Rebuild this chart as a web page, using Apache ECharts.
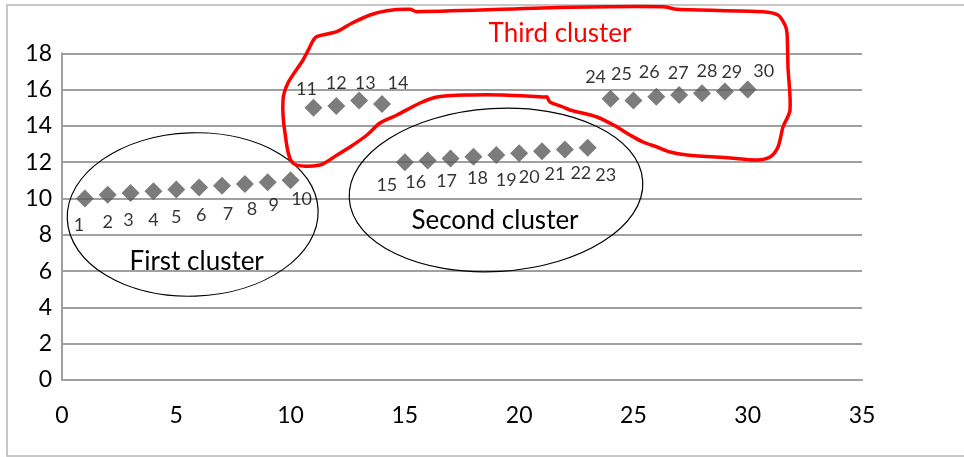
<!DOCTYPE html>
<html>
<head>
<meta charset="utf-8">
<script src="https://cdn.jsdelivr.net/npm/echarts@6/dist/echarts.min.js"></script>
<style>html,body{margin:0;padding:0;background:#fff}#c{width:964px;height:457px}</style>
</head>
<body>
<div id="c"></div>
<script>
// ---- data ----
const xValues = [1,2,3,4,5,6,7,8,9,10,11,12,13,14,15,16,17,18,19,20,21,22,23,24,25,26,27,28,29,30];
const yValues = [10.0,10.2,10.3,10.4,10.5,10.6,10.7,10.8,10.9,11.0,
                 15.0,15.1,15.4,15.2,
                 12.0,12.1,12.2,12.3,12.4,12.5,12.6,12.7,12.8,
                 15.5,15.4,15.6,15.7,15.8,15.9,16.0];
const pointLabels = ['1','2','3','4','5','6','7','8','9','10','11','12','13','14','15','16','17','18','19','20','21','22','23','24','25','26','27','28','29','30'];
const yTicks = [0,2,4,6,8,10,12,14,16,18];
const xTicks = [0,5,10,15,20,25,30,35];
const clusterNames = ['First cluster','Second cluster','Third cluster'];

// ---- label placement (style) ----
const LABEL_OFFSETS = [
  [-6,27],[0,27],[-2,27],[0,29],[0,28],[2,28],[6,28],[7,25],[6,23],[11,19],
  [-7,-19],[0,-23],[6,-17],[16,-21],
  [-18,23],[-12,22],[-4,23],[4,21],[10,25],[10,24],[13,23],[16,24],[18,28],
  [-15,-21],[-12,-26],[-7,-25],[-1,-22],[5,-22],[7,-19],[16,-18]
];

const FONT = 'Lato, "Open Sans", sans-serif';
const data = xValues.map((x, i) => ({
  value: [x, yValues[i]],
  label: { show: true, position: 'inside', offset: LABEL_OFFSETS[i], formatter: pointLabels[i] }
}));

// third-cluster freehand outline (annotation)
const redPath = [[311.7,43],[316.7,36.7],[336.7,31.7],[351.7,23.3],[370,15],[386.7,10.7],[410,9.3],[416.7,11.7],[570,7.3],[663,6.7],[677,9.3],[763,11.7],[778,15],[785,25],[787,33],[788,67],[790,110],[783,127],[778,147],[770,157],[757,160],[730,158],[687,155],[670,152],[657,147],[643,142],[630,135],[617,127],[597,117],[570,110],[563,107],[550,102],[547,97],[545,97],[503,95],[470,95],[437,97],[420,103],[397,115],[380,123],[367,135],[350,147],[337,155],[320,165],[293,163],[285,133],[283,100],[288,83],[303,60],[311.7,43]];

const chart = echarts.init(document.getElementById('c'), null, {renderer: 'canvas'});
chart.setOption({
  animation: false,
  backgroundColor: '#fff',
  grid: { left: 62, right: 102, top: 53.3, bottom: 77, containLabel: false },
  xAxis: {
    type: 'value', min: xTicks[0], max: xTicks[xTicks.length-1], interval: 5,
    axisLine: { show: true, lineStyle: { color: '#a0a0a0', width: 2 } },
    axisTick: { show: false },
    splitLine: { show: false },
    axisLabel: { color: '#000', fontSize: 23, fontFamily: FONT, margin: 24 }
  },
  yAxis: {
    type: 'value', min: yTicks[0], max: yTicks[yTicks.length-1], interval: 2,
    axisLine: { show: true, lineStyle: { color: '#a0a0a0', width: 2 } },
    axisTick: { show: false },
    splitLine: { show: true, lineStyle: { color: '#a0a0a0', width: 2 } },
    axisLabel: { color: '#000', fontSize: 23, fontFamily: FONT, margin: 10 }
  },
  series: [{
    type: 'scatter',
    symbol: 'diamond',
    symbolSize: 18,
    itemStyle: { color: '#5b5b5b' },
    label: { color: '#000', fontSize: 18, fontFamily: FONT },
    data: data,
    z: 3
  }],
  graphic: [
    { type: 'rect', shape: { x: 7, y: 5, width: 980, height: 451 }, style: { fill: 'none', stroke: '#b5b5b5', lineWidth: 1.5 }, z: -1, silent: true },
    { type: 'ellipse', x: 192.7, y: 214.5, rotation: 0.035, shape: { cx: 0, cy: 0, rx: 125.5, ry: 81.7 }, style: { fill: 'none', stroke: '#000', lineWidth: 1.2 }, z: 10 },
    { type: 'ellipse', x: 496, y: 190, rotation: 0.06, shape: { cx: 0, cy: 0, rx: 147, ry: 81.5 }, style: { fill: 'none', stroke: '#000', lineWidth: 1.2 }, z: 10 },
    { type: 'polyline', shape: { points: redPath, smooth: 0.3 }, style: { fill: 'none', stroke: '#ff0000', lineWidth: 3.5 }, z: 10 },
    { type: 'text', x: 196.7, y: 261.7, style: { text: clusterNames[0], fill: '#000', font: '26px ' + FONT, textAlign: 'center', textVerticalAlign: 'middle' }, z: 10 },
    { type: 'text', x: 495, y: 221, style: { text: clusterNames[1], fill: '#000', font: '26px ' + FONT, textAlign: 'center', textVerticalAlign: 'middle' }, z: 10 },
    { type: 'text', x: 560, y: 34, style: { text: clusterNames[2], fill: '#ff0000', font: '26px ' + FONT, textAlign: 'center', textVerticalAlign: 'middle' }, z: 10 }
  ]
});
</script>
</body>
</html>
